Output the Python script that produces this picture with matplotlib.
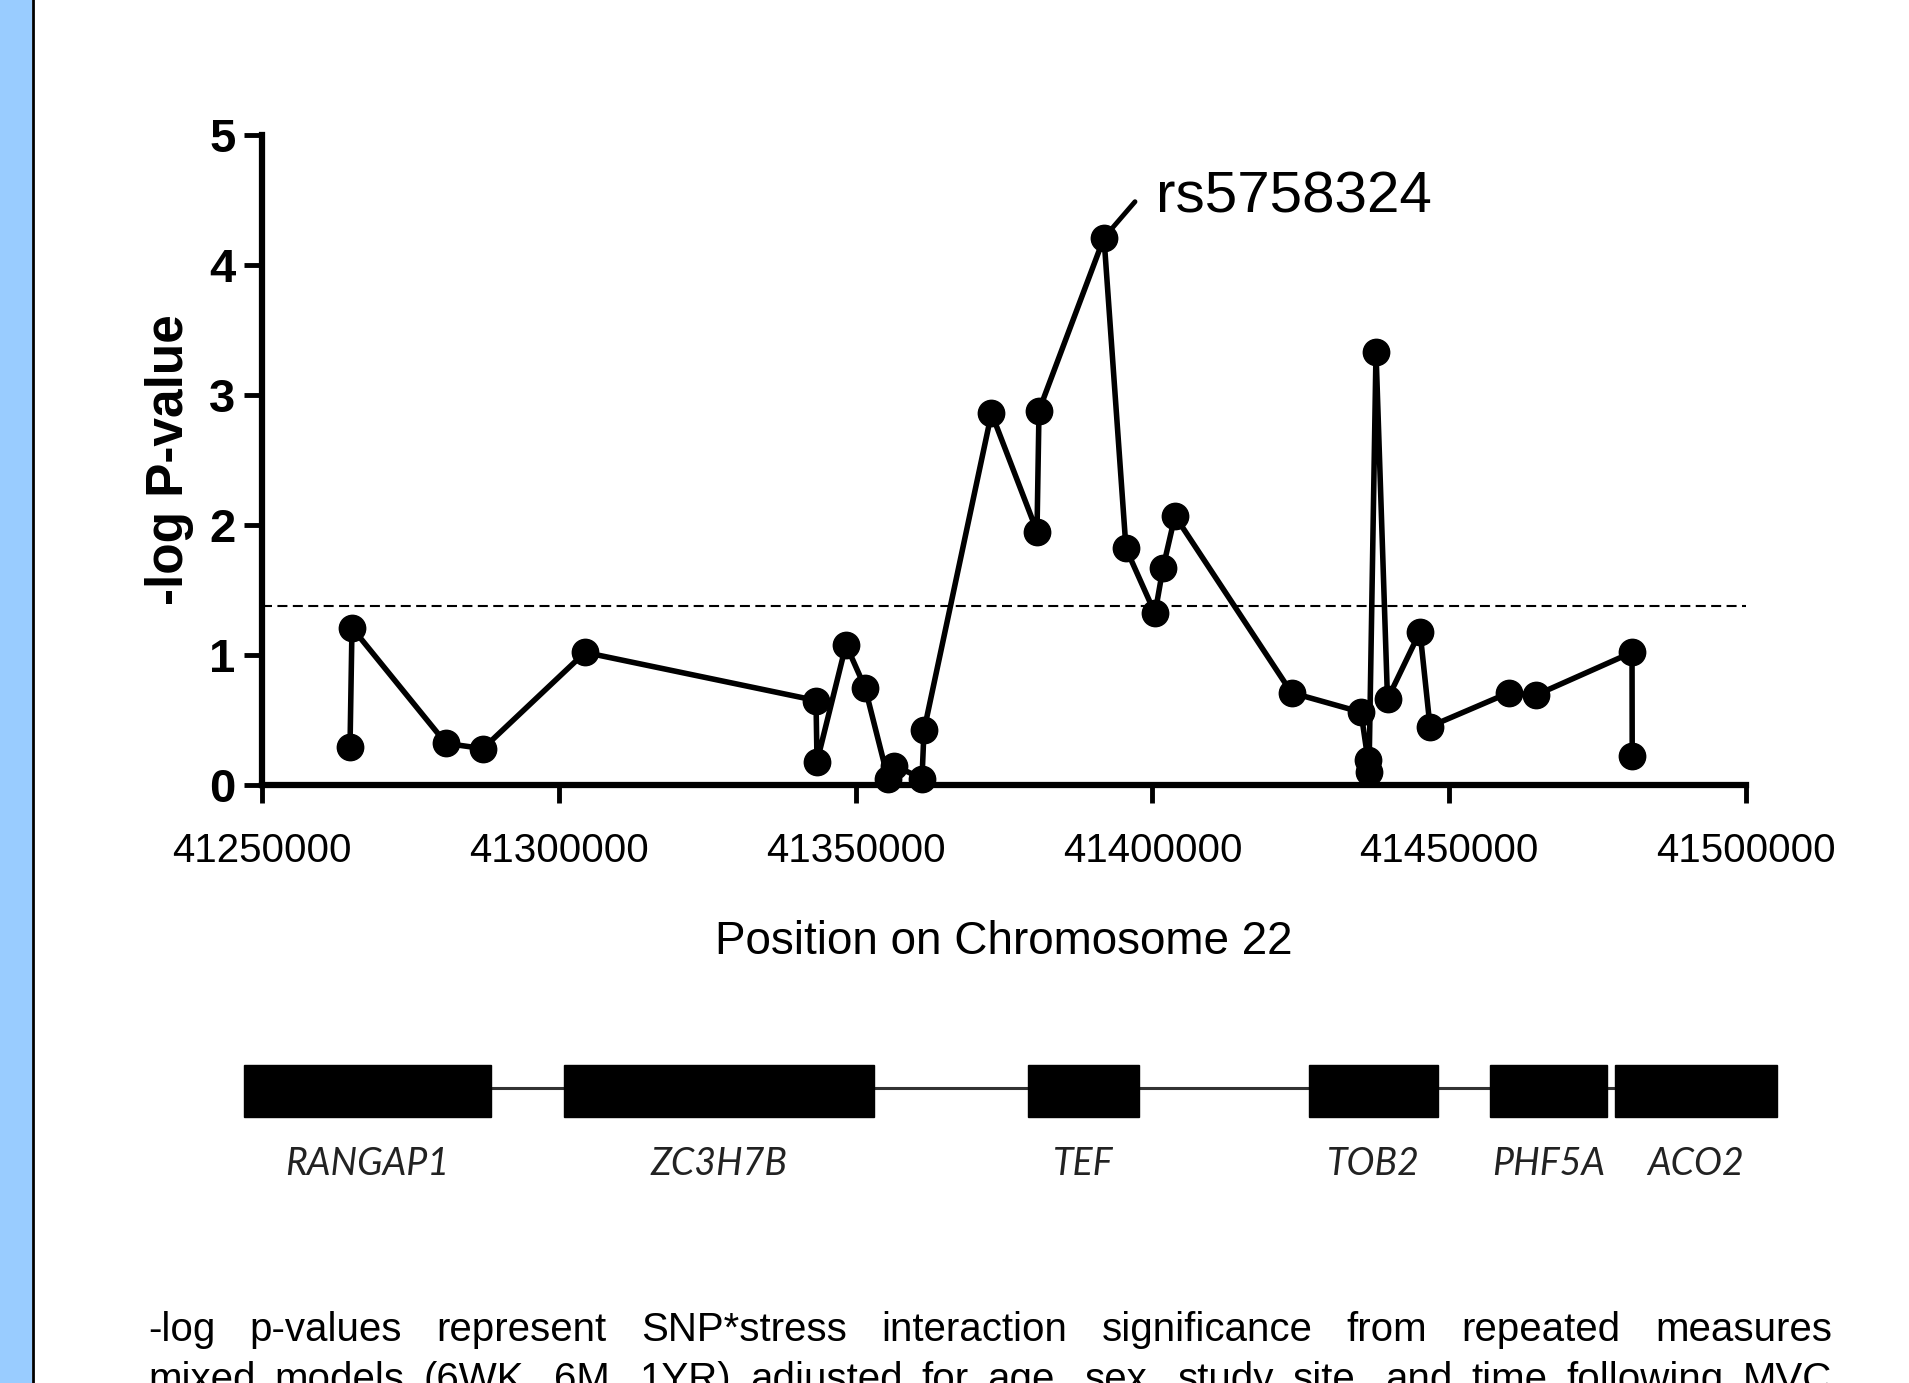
import matplotlib
matplotlib.use("Agg")
import matplotlib.pyplot as plt
from matplotlib.patches import Rectangle

plt.rcParams['font.family'] = ['Liberation Sans', 'DejaVu Sans']

# SNP positions on chr22 and -log p-values
snp_pos = [41264825, 41265160, 41280997, 41287230, 41304414, 41343330, 41343500,
           41348383, 41351584, 41355459, 41356470, 41361186, 41361523, 41372893,
           41380560, 41380896, 41391846, 41395552, 41400438, 41401786, 41403807,
           41423434, 41435142, 41436321, 41436490, 41437669, 41439606, 41445081,
           41446766, 41460075, 41464539, 41480800, 41480830]
neglogp = [0.29, 1.21, 0.32, 0.28, 1.02, 0.65, 0.18,
           1.08, 0.75, 0.05, 0.15, 0.05, 0.42, 2.86,
           1.95, 2.88, 4.21, 1.82, 1.32, 1.67, 2.07,
           0.71, 0.56, 0.19, 0.10, 3.33, 0.66, 1.18,
           0.45, 0.71, 0.69, 1.02, 0.22]
threshold = 1.38
top_snp = 'rs5758324'
top_idx = 16

genes = ['RANGAP1', 'ZC3H7B', 'TEF', 'TOB2', 'PHF5A', 'ACO2']
gene_start = [41247000, 41300900, 41379000, 41426400, 41456900, 41477900]
gene_end = [41288600, 41353100, 41397700, 41448100, 41476600, 41505200]

xticks = [41250000, 41300000, 41350000, 41400000, 41450000, 41500000]
caption = ["-log p-values represent SNP*stress interaction significance from repeated measures",
           "mixed models (6WK, 6M, 1YR) adjusted for age, sex, study site, and time following MVC"]

W, H = 1909, 1383
fig = plt.figure(figsize=(W / 100, H / 100), dpi=100)

# left blue band
fig.patches.append(Rectangle((0, 0), 32 / W, 1, transform=fig.transFigure,
                             facecolor='#99CCFF', edgecolor='none'))
fig.add_artist(plt.Line2D([33 / W, 33 / W], [0, 1], color='black', lw=2))

ax = fig.add_axes([262 / W, 1 - 785 / H, 1484 / W, 650 / H])
ax.plot(snp_pos, neglogp, color='black', lw=4, marker='o', markersize=19,
        clip_on=False, zorder=5)
ax.axhline(threshold, color='black', lw=1.5, dashes=[4.8, 2.6], zorder=1)
ax.set_xlim(xticks[0], xticks[-1])
ax.set_ylim(0, 5)
ax.set_xticks(xticks)
ax.set_xticklabels([str(t) for t in xticks], fontsize=29)
ax.set_yticks(range(6))
ax.set_yticklabels([str(i) for i in range(6)], fontsize=34, fontweight='bold')
ax.tick_params(axis='both', direction='out', length=13, width=3.5)
ax.tick_params(axis='x', pad=21)
ax.tick_params(axis='y', pad=6)
for s in ['top', 'right']:
    ax.spines[s].set_visible(False)
for s in ['left', 'bottom']:
    ax.spines[s].set_linewidth(4.5)
ax.set_xlabel('Position on Chromosome 22', fontsize=33, labelpad=36)
ax.set_ylabel('-log P-value', fontsize=37, fontweight='bold', labelpad=11)

# label for the top SNP
ax.annotate('', xy=(snp_pos[top_idx], neglogp[top_idx]), xytext=(31, 36),
            textcoords='offset pixels',
            arrowprops=dict(arrowstyle='-', lw=3.5, color='black', shrinkA=0, shrinkB=7))
ax.annotate(top_snp, xy=(snp_pos[top_idx], neglogp[top_idx]), xytext=(52, 25),
            textcoords='offset pixels', fontsize=42, ha='left', va='baseline')

# gene track
gax = fig.add_axes([262 / W, 1 - 1117 / H, 1484 / W, 52 / H])
gax.set_xlim(xticks[0], xticks[-1])
gax.set_ylim(0, 1)
gax.axis('off')
gax.plot([gene_end[0], gene_start[-1]], [0.56, 0.56], color='#333333', lw=2.2,
         clip_on=False, zorder=1)
for name, a, b in zip(genes, gene_start, gene_end):
    gax.add_patch(Rectangle((a, 0), b - a, 1, facecolor='black', edgecolor='black',
                            clip_on=False, zorder=2))
    gax.text((a + b) / 2, -0.9, name, fontsize=27, style='italic', family='Lato',
             ha='center', va='center', color='#222222')

# justified caption
fig.canvas.draw()
r = fig.canvas.get_renderer()
x0, x1 = 148 / W, 1832 / W
for line, yc in zip(caption, [1 - 1330 / H, 1 - 1380 / H]):
    words = line.split()
    ts = [fig.text(0, yc, w, fontsize=29, va='center', ha='left') for w in words]
    widths = [t.get_window_extent(r).width / W for t in ts]
    gap = (x1 - x0 - sum(widths)) / (len(words) - 1)
    x = x0
    for t, w in zip(ts, widths):
        t.set_x(x)
        x += w + gap

fig.savefig('out.png', dpi=100)
